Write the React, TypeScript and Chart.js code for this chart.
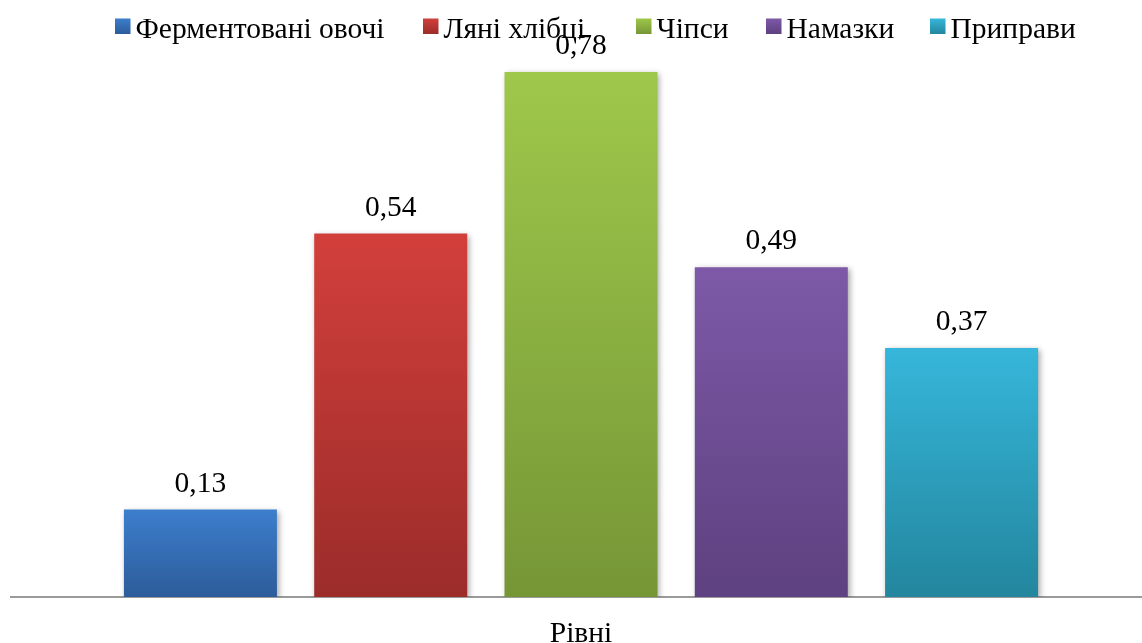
import React, { useEffect, useRef } from "react";
import { Chart, registerables } from "chart.js";

Chart.register(...registerables);

// Data
const categories = ["Рівні"];
const seriesNames = ["Ферментовані овочі", "Ляні хлібці", "Чіпси", "Намазки", "Приправи"];
const seriesValues = [0.13, 0.54, 0.78, 0.49, 0.37];
// [top, bottom] gradient colours per series
const seriesColors: [string, string][] = [
  ["#3C7ECD", "#2D5C9A"],
  ["#D23F3B", "#9B2C2A"],
  ["#9EC84B", "#769636"],
  ["#7D59A7", "#5E4180"],
  ["#36B6DA", "#23869E"],
];

const FONT_FAMILY = '"Liberation Serif", "Times New Roman", serif';
const FONT_SIZE = 29.5;

// left edge of each legend swatch
const LEGEND_X = [115, 423, 636, 766, 930];

const fmt = (v: number) => v.toFixed(2).replace(".", ",");

const decorPlugin = {
  id: "decor",
  beforeDatasetsDraw(chart: any) {
    const { ctx, chartArea } = chart;
    // baseline axis
    ctx.save();
    ctx.strokeStyle = "#9a9a9a";
    ctx.lineWidth = 2;
    ctx.beginPath();
    ctx.moveTo(10, chartArea.bottom);
    ctx.lineTo(chart.width, chartArea.bottom);
    ctx.stroke();
    ctx.restore();
    // soft drop shadow for the bars
    ctx.save();
    ctx.shadowColor = "rgba(0,0,0,0.35)";
    ctx.shadowBlur = 6;
    ctx.shadowOffsetX = 2;
    ctx.shadowOffsetY = 2;
  },
  afterDatasetsDraw(chart: any) {
    const { ctx } = chart;
    ctx.restore();
    // value labels above each bar
    ctx.save();
    ctx.font = `${FONT_SIZE}px ${FONT_FAMILY}`;
    ctx.fillStyle = "#000";
    ctx.textAlign = "center";
    ctx.textBaseline = "alphabetic";
    chart.data.datasets.forEach((ds: any, i: number) => {
      const meta = chart.getDatasetMeta(i);
      meta.data.forEach((bar: any, j: number) => {
        ctx.fillText(fmt(ds.data[j]), bar.x, bar.y - 18);
      });
    });
    ctx.restore();
  },
  afterDraw(chart: any) {
    const { ctx } = chart;
    // legend row
    ctx.save();
    ctx.font = `${FONT_SIZE}px ${FONT_FAMILY}`;
    ctx.textBaseline = "alphabetic";
    ctx.textAlign = "left";
    const boxTop = 18.5;
    const box = 15.5;
    chart.data.datasets.forEach((ds: any, i: number) => {
      const x = LEGEND_X[i];
      const [c1, c2] = seriesColors[i];
      const g = ctx.createLinearGradient(0, boxTop, 0, boxTop + box);
      g.addColorStop(0, c1);
      g.addColorStop(1, c2);
      ctx.fillStyle = g;
      ctx.fillRect(x, boxTop, box, box);
      ctx.fillStyle = "#000";
      ctx.fillText(ds.label, x + box + 5, 38);
    });
    ctx.restore();
  },
};

export default function App() {
  const canvasRef = useRef<HTMLCanvasElement | null>(null);

  useEffect(() => {
    if (!canvasRef.current) return;
    const datasets = seriesNames.map((name, i) => ({
      label: name,
      data: [seriesValues[i]],
      backgroundColor: (context: any) => {
        const chart = context.chart;
        const yScale = chart.scales?.y;
        if (!chart.chartArea || !yScale) return seriesColors[i][0];
        const top = yScale.getPixelForValue(seriesValues[i]);
        const bottom = yScale.getPixelForValue(0);
        const g = chart.ctx.createLinearGradient(0, top, 0, bottom);
        g.addColorStop(0, seriesColors[i][0]);
        g.addColorStop(1, seriesColors[i][1]);
        return g;
      },
      borderWidth: 0,
      categoryPercentage: 0.848,
      barPercentage: 0.804,
    }));

    const chart = new Chart(canvasRef.current, {
      type: "bar",
      data: { labels: categories, datasets },
      plugins: [decorPlugin],
      options: {
        animation: false,
        responsive: true,
        maintainAspectRatio: false,
        layout: { padding: { top: 58.6, left: 20, right: 0, bottom: 0 } },
        plugins: {
          legend: { display: false },
          tooltip: { enabled: false },
        },
        scales: {
          y: { display: false, min: 0, max: 0.8 },
          x: {
            grid: { display: false },
            border: { display: false },
            ticks: {
              color: "#000",
              padding: 12,
              font: { family: FONT_FAMILY, size: FONT_SIZE },
            },
            afterFit(scale: any) {
              scale.height = 46;
            },
          },
        },
      },
    });
    return () => chart.destroy();
  }, []);

  return (
    <div style={{ position: "fixed", left: 0, top: 0, width: 1142, height: 643, background: "#fff" }}>
      <canvas ref={canvasRef} />
    </div>
  );
}
